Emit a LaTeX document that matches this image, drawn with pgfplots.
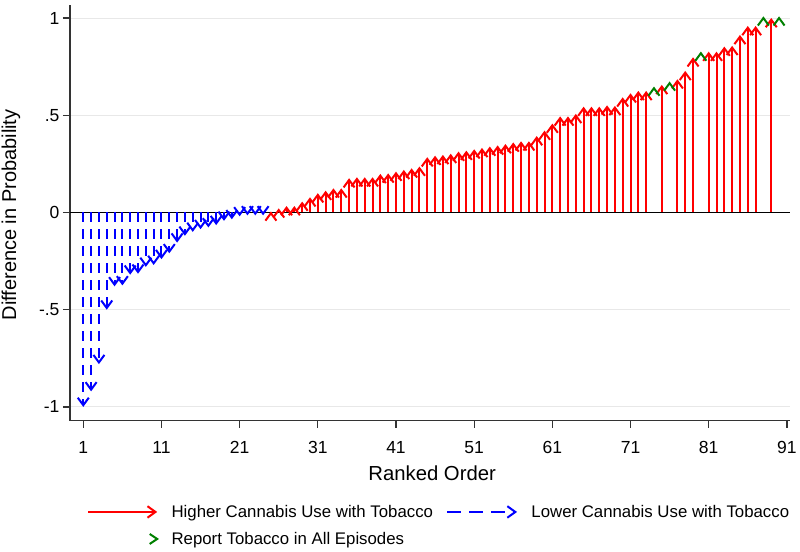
\documentclass[border=0pt]{standalone}
\usepackage{fontspec}
\setmainfont{Liberation Sans}
\usepackage{pgfplots}
\usepackage{pgfplotstable}
\pgfplotsset{compat=1.18}
\usetikzlibrary{arrows.meta}

\definecolor{sred}{RGB}{255,0,0}
\definecolor{sblue}{RGB}{0,0,255}
\definecolor{sgreen}{RGB}{0,128,0}

\pgfdeclareplotmark{uphead}{%
  \pgfpathmoveto{\pgfqpoint{-5.5bp}{-7.5bp}}%
  \pgfpathlineto{\pgfqpoint{0bp}{0bp}}%
  \pgfpathlineto{\pgfqpoint{5.5bp}{-7.5bp}}%
  \pgfusepathqstroke}

\pgfplotstableread{
x b v
1 0 -1.00
2 0 -0.92
3 0 -0.78
4 0 -0.50
5 0 -0.38
6 0 -0.375
7 0 -0.32
8 0 -0.315
9 0 -0.28
10 0 -0.27
11 0 -0.24
12 0 -0.21
13 0 -0.155
14 0 -0.12
15 0 -0.10
16 0 -0.086
17 0 -0.077
18 0 -0.065
19 0 -0.043
20 0 -0.035
21 0 -0.02
22 0 -0.015
23 0 -0.015
24 0 -0.015
}\bluedata

\pgfplotstableread{
x b v
25 0 0.005
26 0 0.021
27 0 0.033
28 0 0.033
29 0 0.056
30 0 0.078
31 0 0.099
32 0 0.112
33 0 0.124
34 0 0.124
35 0 0.176
36 0 0.181
37 0 0.181
38 0 0.181
39 0 0.198
40 0 0.201
41 0 0.210
42 0 0.219
43 0 0.227
44 0 0.236
45 0 0.284
46 0 0.292
47 0 0.296
48 0 0.302
49 0 0.313
50 0 0.318
51 0 0.325
52 0 0.332
53 0 0.339
54 0 0.345
55 0 0.352
56 0 0.360
57 0 0.366
58 0 0.366
59 0 0.393
60 0 0.421
61 0 0.457
62 0 0.494
63 0 0.494
64 0 0.507
65 0 0.544
66 0 0.544
67 0 0.544
68 0 0.551
69 0 0.548
70 0 0.592
71 0 0.613
72 0 0.625
73 0 0.625
75 0 0.656
77 0 0.685
78 0 0.728
79 0 0.798
81 0 0.827
82 0 0.827
83 0 0.853
84 0 0.857
85 0 0.913
86 0 0.959
87 0 0.959
89 0 1.000
}\reddata

\pgfplotstableread{
x v
74 0.639
76 0.665
80 0.819
88 1.000
90 1.000
}\greendata

\begin{document}
\begin{tikzpicture}
\useasboundingbox (-70bp,-131.3bp) rectangle (730bp,420.7bp);
\begin{axis}[
  at={(0,0)}, anchor=south west,
  width=720bp, height=415.7bp, scale only axis,
  xmin=-0.7, xmax=91.4, ymin=-1.071, ymax=1.067,
  axis x line*=bottom, axis y line*=left,
  axis line style={black!80, line width=1.3bp},
  xtick={1,11,...,91}, ytick={-1,-0.5,0,0.5,1},
  yticklabels={-1,-.5,0,.5,1},
  tick align=outside, major tick length=7bp,
  tick style={black!80, line width=1.3bp},
  ymajorgrids, grid style={black!9, line width=1bp},
  ticklabel style={font=\fontsize{17.5bp}{18bp}\selectfont},
  xticklabel style={yshift=-10.5bp},
  /pgf/number format/assume math mode=true,
  xlabel={Ranked Order}, ylabel={Difference in Probability},
  xlabel style={font=\fontsize{20.3bp}{21bp}\selectfont, at={(axis description cs:0.503,-0.1434)}, anchor=base},
  ylabel style={font=\fontsize{20bp}{21bp}\selectfont, at={(axis description cs:-0.075,0.495)}, anchor=base},
  clip=false,
  legend columns=2,
  legend cell align=left,
  legend style={at={(0.0236,-0.2028)}, anchor=north west, draw=none, fill=none,
    inner sep=0pt, row sep=11.5bp,
    nodes={inner sep=0pt, font=\fontsize{16.8bp}{18bp}\selectfont, text height=12bp, text depth=3.5bp},
    /tikz/every odd column/.append style={column sep=13bp},
    /tikz/every even column/.append style={column sep=13bp}},
]
\addplot[black, line width=1.3bp, forget plot] coordinates {(-0.7,0) (91.4,0)};

\addplot[sred, line width=2bp, -{Straight Barb[length=7.5bp,width=11bp]},
  quiver={u=0, v=\thisrow{v}},
  legend image code/.code={\draw[sred, line width=2bp, -{Straight Barb[length=8bp,width=11.5bp]}] (0bp,1bp) -- (69bp,1bp);}]
  table[x=x, y=b] {\reddata};
\addlegendentry{Higher Cannabis Use with Tobacco}

\addplot[sblue, line width=2bp, dash pattern=on 10bp off 7bp, -{Straight Barb[length=7.5bp,width=11bp]},
  quiver={u=0, v=\thisrow{v}},
  legend image code/.code={\draw[sblue, line width=2bp, dash pattern=on 14bp off 8bp, -{Straight Barb[length=8bp,width=11.5bp]}] (0bp,1bp) -- (70bp,1bp);}]
  table[x=x, y=b] {\bluedata};
\addlegendentry{Lower Cannabis Use with Tobacco}

\addplot[sgreen, only marks, mark=uphead, mark options={line width=2bp},
  legend image code/.code={\path[draw=none] (0bp,1bp) -- (69bp,1bp); \draw[sgreen, line width=2bp] (61.5bp,6bp) -- (69bp,1bp) -- (61.5bp,-4bp);}]
  table[x=x, y=v] {\greendata};
\addlegendentry{Report Tobacco in All Episodes}
\end{axis}
\end{tikzpicture}
\end{document}
